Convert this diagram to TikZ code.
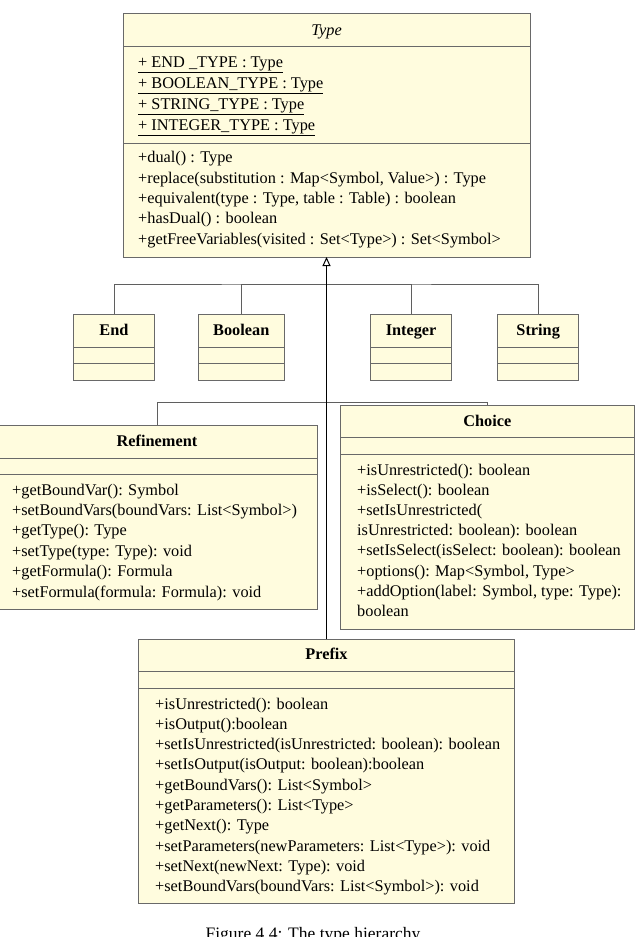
\documentclass[tikz,border=0pt]{standalone}
\usepackage{fontspec}
\setmainfont{Liberation Serif}
\usetikzlibrary{arrows.meta}
\definecolor{clsfill}{RGB}{255,252,222}
\definecolor{clsdraw}{RGB}{105,105,105}
\definecolor{conncol}{RGB}{95,95,95}
\begin{document}
\begin{tikzpicture}[x=1pt,y=-1pt,
  cls/.style={draw=clsdraw,fill=clsfill,line width=1pt,anchor=north west,inner sep=0pt,outer sep=0pt},
  div/.style={draw=clsdraw,line width=1pt},
  txt/.style={anchor=base west,inner sep=0pt,font=\fontsize{16.3}{20.3}\selectfont},
  ttl/.style={anchor=base,inner sep=0pt,font=\fontsize{16.3}{20.3}\selectfont\bfseries},
  conn/.style={draw=conncol,line width=1pt},
  mainconn/.style={draw=black,line width=1.3pt},
  gen/.style={-{Triangle[open,length=9pt,width=8pt,line width=1pt]}}
]
\useasboundingbox (0,0) rectangle (642,937);

% ---------- Type ----------
\node[cls,minimum width=407pt,minimum height=244pt] (type) at (123,13) {};
\draw[div] (type.west |- 0,46) -- (type.east |- 0,46);
\draw[div] (type.west |- 0,143) -- (type.east |- 0,143);
\node[anchor=base,inner sep=0pt,font=\fontsize{16.3}{20.3}\selectfont\itshape] (typettl) at (326.5,35) {Type};
\node[txt] (ta1) at (138,67.7) {\underline{+ END \_TYPE : Type}};
\node[txt] (ta2) at (138,88.5) {\underline{+ BOOLEAN\_TYPE : Type}};
\node[txt] (ta3) at (138,109.3) {\underline{+ STRING\_TYPE : Type}};
\node[txt] (ta4) at (138,130.1) {\underline{+ INTEGER\_TYPE : Type}};
\node[txt] (tm1) at (138,162.7) {+dual() : Type};
\node[txt] (tm2) at (138,183.1) {+replace(substitution : Map<Symbol, Value>) : Type};
\node[txt] (tm3) at (138,203.5) {+equivalent(type : Type, table : Table) : boolean};
\node[txt] (tm4) at (138,223.9) {+hasDual() : boolean};
\node[txt] (tm5) at (138,244.3) {+getFreeVariables(visited : Set<Type>) : Set<Symbol>};

% ---------- small classes ----------
\node[cls,minimum width=81.4pt,minimum height=66pt] (end) at (73.3,314) {};
\node[cls,minimum width=85.8pt,minimum height=66pt] (boolean) at (198.4,314) {};
\node[cls,minimum width=80.6pt,minimum height=66pt] (integer) at (370.8,314) {};
\node[cls,minimum width=81pt,minimum height=66pt] (string) at (497.7,314) {};
\foreach \b in {end,boolean,integer,string}{
  \draw[div] (\b.west |- 0,347.3) -- (\b.east |- 0,347.3);
  \draw[div] (\b.west |- 0,363.7) -- (\b.east |- 0,363.7);
}
\node[ttl] (endttl) at (114,335.4) {End};
\node[ttl] (boolttl) at (241.3,335.4) {Boolean};
\node[ttl] (intttl) at (411.1,335.4) {Integer};
\node[ttl] (strttl) at (538.2,335.4) {String};

% ---------- Refinement ----------
\node[cls,minimum width=320.3pt,minimum height=184pt] (refinement) at (-3,425) {};
\draw[div] (refinement.west |- 0,458.5) -- (refinement.east |- 0,458.5);
\draw[div] (refinement.west |- 0,474) -- (refinement.east |- 0,474);
\node[ttl] (refttl) at (157,446) {Refinement};
\node[txt] (r1) at (12,495) {+getBoundVar(): Symbol};
\node[txt] (r2) at (12,515.4) {+setBoundVars(boundVars: List<Symbol>)};
\node[txt] (r3) at (12,535.8) {+getType(): Type};
\node[txt] (r4) at (12,556.2) {+setType(type: Type): void};
\node[txt] (r5) at (12,576.6) {+getFormula(): Formula};
\node[txt] (r6) at (12,597) {+setFormula(formula: Formula): void};

% ---------- Choice ----------
\node[cls,minimum width=293.3pt,minimum height=224pt] (choice) at (340.7,405) {};
\draw[div] (choice.west |- 0,437.7) -- (choice.east |- 0,437.7);
\draw[div] (choice.west |- 0,454) -- (choice.east |- 0,454);
\node[ttl] (chttl) at (487.35,426) {Choice};
\node[txt] (c1) at (357,475) {+isUnrestricted(): boolean};
\node[txt] (c2) at (357,495.24) {+isSelect(): boolean};
\node[txt] (c3) at (357,515.48) {+setIsUnrestricted(};
\node[txt] (c4) at (357,535.72) {isUnrestricted: boolean): boolean};
\node[txt] (c5) at (357,555.96) {+setIsSelect(isSelect: boolean): boolean};
\node[txt] (c6) at (357,576.2) {+options(): Map<Symbol, Type>};
\node[txt] (c7) at (357,596.44) {+addOption(label: Symbol, type: Type):};
\node[txt] (c8) at (357,616.68) {boolean};

% ---------- Prefix ----------
\node[cls,minimum width=376.4pt,minimum height=264pt] (prefix) at (138.3,639) {};
\draw[div] (prefix.west |- 0,671.7) -- (prefix.east |- 0,671.7);
\draw[div] (prefix.west |- 0,688.3) -- (prefix.east |- 0,688.3);
\node[ttl] (prefttl) at (326.5,659.5) {Prefix};
\node[txt] (p1) at (155,709) {+isUnrestricted(): boolean};
\node[txt] (p2) at (155,729.3) {+isOutput():boolean};
\node[txt] (p3) at (155,749.6) {+setIsUnrestricted(isUnrestricted: boolean): boolean};
\node[txt] (p4) at (155,769.9) {+setIsOutput(isOutput: boolean):boolean};
\node[txt] (p5) at (155,790.2) {+getBoundVars(): List<Symbol>};
\node[txt] (p6) at (155,810.5) {+getParameters(): List<Type>};
\node[txt] (p7) at (155,830.8) {+getNext(): Type};
\node[txt] (p8) at (155,851.1) {+setParameters(newParameters: List<Type>): void};
\node[txt] (p9) at (155,871.4) {+setNext(newNext: Type): void};
\node[txt] (p10) at (155,891.7) {+setBoundVars(boundVars: List<Symbol>): void};

% ---------- connectors ----------
\coordinate (jn) at (326.5,284);
\coordinate (rc) at (326.5,402.7);
\draw[conn] (end.north) |- (jn) -| (string.north);
\draw[conn] (boolean.north) |- (jn);
\draw[conn] (integer.north) |- (jn);
\draw[conn] (refinement.north) |- (rc) -| (choice.north);
\draw[mainconn,gen] (prefix.north) -- (type.south);

% ---------- caption ----------
\node[anchor=base,inner sep=0pt,font=\fontsize{17.5}{21}\selectfont] (caption) at (313,939) {Figure 4.4: The type hierarchy};
\end{tikzpicture}
\end{document}
